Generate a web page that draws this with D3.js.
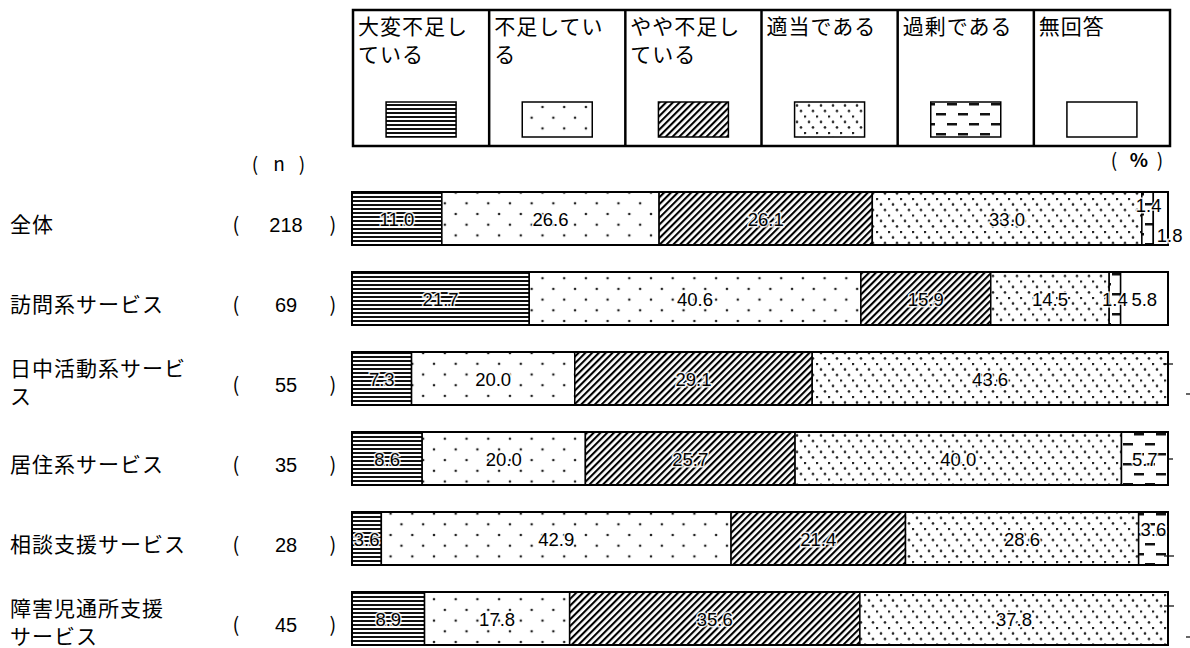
<!DOCTYPE html>
<html>
<head>
<meta charset="utf-8">
<script src="https://cdn.jsdelivr.net/npm/d3@7"></script>
<style>
  body { margin: 0; background: #fff; }
  svg { display: block; }
  .jp { font-family: "Noto Sans CJK JP", sans-serif; }
  .num { font-family: "Liberation Sans", Arial, sans-serif; }
</style>
</head>
<body>
<svg id="chart" width="1190" height="648"></svg>
<script>
// chart data
const categories = ['全体', '訪問系サービス', '日中活動系サービス', '居住系サービス', '相談支援サービス', '障害児通所支援サービス'];
const categoryLines = [['全体'], ['訪問系サービス'], ['日中活動系サービ', 'ス'], ['居住系サービス'], ['相談支援サービス'], ['障害児通所支援', 'サービス']];
const sampleSizes = [218, 69, 55, 35, 28, 45];
const seriesKeys = ['verySevere', 'short', 'slightly', 'adequate', 'excess', 'noAnswer'];
const legendLines = [['大変不足し', 'ている'], ['不足してい', 'る'], ['やや不足し', 'ている'], ['適当である'], ['過剰である'], ['無回答']];
const verySevere = [11.0, 21.7, 7.3, 8.6, 3.6, 8.9];
const short = [26.6, 40.6, 20.0, 20.0, 42.9, 17.8];
const slightly = [26.1, 15.9, 29.1, 25.7, 21.4, 35.6];
const adequate = [33.0, 14.5, 43.6, 40.0, 28.6, 37.8];
const excess = [1.4, 1.4, 0.0, 5.7, 3.6, 0.0];
const noAnswer = [1.8, 5.8, 0.0, 0.0, 0.0, 0.0];

const seriesValues = { verySevere, short, slightly, adequate, excess, noAnswer };
const rows = categories.map((c, i) => {
  const r = { category: c };
  seriesKeys.forEach(k => { r[k] = seriesValues[k][i]; });
  return r;
});

// label nudges for crowded small segments
const labelNudge = {
  '全体|excess': [1, -14],
  '全体|noAnswer': [9, 16],
  '相談支援サービス|excess': [0, -10]
};
// leader ticks left by the hidden 0.0 labels
const zeroLeaders = [
  { category: '日中活動系サービス', x0: -5, x1: 5, dy: 12 },
  { category: '日中活動系サービス', x0: 18, x1: 24, dy: 42 },
  { category: '居住系サービス', x0: 0, x1: 5, dy: 27 },
  { category: '相談支援サービス', x0: -4, x1: 6, dy: 44 },
  { category: '障害児通所支援サービス', x0: -4, x1: 6, dy: 14 },
  { category: '障害児通所支援サービス', x0: 18, x1: 24, dy: 45 }
];

const svg = d3.select('#chart');
const defs = svg.append('defs');

// fill patterns
function addPattern (id, w, h, draw, transform) {
  const p = defs.append('pattern')
    .attr('id', id)
    .attr('patternUnits', 'userSpaceOnUse')
    .attr('width', w)
    .attr('height', h);
  if (transform) p.attr('patternTransform', transform);
  p.append('rect').attr('width', w).attr('height', h).attr('fill', '#fff');
  draw(p);
}

addPattern('pat-verySevere', 8, 4, p => {
  p.append('rect').attr('y', 0).attr('width', 8).attr('height', 2).attr('fill', '#111');
});
addPattern('pat-short', 21.7, 21.4, p => {
  [[0, 0], [10.85, 10.7], [21.7, 0], [0, 21.4], [21.7, 21.4]].forEach(([x, y]) => {
    p.append('circle').attr('cx', x).attr('cy', y).attr('r', 1.3).attr('fill', '#222');
  });
});
addPattern('pat-slightly', 4.8, 10, p => {
  p.append('rect').attr('width', 2.1).attr('height', 10).attr('fill', '#000');
}, 'rotate(45)');
addPattern('pat-adequate', 12, 16.5, p => {
  [[1, 1], [5, 6.5], [9, 12]].forEach(([x, y]) => {
    p.append('circle').attr('cx', x).attr('cy', y).attr('r', 1.3).attr('fill', '#222');
  });
});
addPattern('pat-excess', 22, 20, p => {
  p.append('rect').attr('x', 1).attr('y', 3).attr('width', 10).attr('height', 2.5).attr('fill', '#111');
  p.append('rect').attr('x', 12).attr('y', 13).attr('width', 10).attr('height', 2.5).attr('fill', '#111');
});
const fillFor = k => k === 'noAnswer' ? '#fff' : `url(#pat-${k})`;

// scales
const x = d3.scaleLinear().domain([0, 1]).range([352, 1168]);
const y = d3.scaleBand()
  .domain(categories)
  .range([192, 645])
  .paddingInner(27 / 80)
  .paddingOuter(0);

const stacked = d3.stack()
  .keys(seriesKeys)
  .offset(d3.stackOffsetExpand)(rows);

// legend
const legendX = d3.scaleBand().domain(seriesKeys).range([353, 1170]);
const legend = svg.append('g');
legend.append('rect')
  .attr('x', 353).attr('y', 10)
  .attr('width', 817).attr('height', 136)
  .attr('fill', 'none').attr('stroke', '#000').attr('stroke-width', 2.5);
seriesKeys.forEach((k, i) => {
  const cx = legendX(k);
  if (i > 0) {
    legend.append('line')
      .attr('x1', cx).attr('x2', cx).attr('y1', 10).attr('y2', 146)
      .attr('stroke', '#000').attr('stroke-width', 2.5);
  }
  legendLines[i].forEach((ln, j) => {
    legend.append('text')
      .attr('class', 'jp')
      .attr('x', cx + 5)
      .attr('y', 34 + j * 28)
      .style('font-size', '21px')
      .style('letter-spacing', '1px')
      .text(ln);
  });
  legend.append('rect')
    .attr('x', cx + legendX.bandwidth() / 2 - 35)
    .attr('y', 102)
    .attr('width', 70).attr('height', 35)
    .attr('fill', fillFor(k))
    .attr('stroke', '#000').attr('stroke-width', 1.5);
});

// headers
const header = svg.append('g').attr('class', 'jp').style('font-size', '19px');
[['(', 255], ['n', 279], [')', 302]].forEach(([t, px]) => {
  header.append('text').attr('x', px).attr('y', 171).attr('text-anchor', 'middle').text(t);
});
[['(', 1114], ['%', 1139], [')', 1160]].forEach(([t, px]) => {
  header.append('text').attr('x', px).attr('y', 167).attr('text-anchor', 'middle')
    .style('font-weight', t === '%' ? 'bold' : 'normal').text(t);
});

// row labels
const rowLabels = svg.append('g');
categories.forEach((c, i) => {
  const mid = y(c) + y.bandwidth() / 2;
  const lines = categoryLines[i];
  lines.forEach((ln, j) => {
    rowLabels.append('text')
      .attr('class', 'jp')
      .style('font-size', '21px')
      .style('letter-spacing', '1px')
      .attr('x', 10)
      .attr('y', mid + (lines.length === 1 ? 13.5 : (j === 0 ? -3 : 25)))
      .text(ln);
  });
  rowLabels.append('text').attr('class', 'jp').style('font-size', '20px')
    .attr('x', 236).attr('y', mid + 13).attr('text-anchor', 'middle').text('(');
  rowLabels.append('text').attr('class', 'jp').style('font-size', '20px')
    .attr('x', 333).attr('y', mid + 13).attr('text-anchor', 'middle').text(')');
  rowLabels.append('text').attr('class', 'num').style('font-size', '20px')
    .attr('x', 286).attr('y', mid + 13).attr('text-anchor', 'middle').text(sampleSizes[i]);
});

// bars
const fmt = d3.format('.1f');
const bars = svg.append('g');
stacked.forEach(layer => {
  const key = layer.key;
  const g = bars.append('g');
  g.selectAll('rect')
    .data(layer.filter(d => d.data[key] > 0))
    .join('rect')
    .attr('x', d => x(d[0]))
    .attr('y', d => y(d.data.category))
    .attr('width', d => x(d[1]) - x(d[0]))
    .attr('height', y.bandwidth())
    .attr('fill', fillFor(key))
    .attr('stroke', '#000')
    .attr('stroke-width', 1.5);
});
categories.forEach(c => {
  bars.append('rect')
    .attr('x', x(0)).attr('y', y(c))
    .attr('width', x(1) - x(0)).attr('height', y.bandwidth())
    .attr('fill', 'none').attr('stroke', '#000').attr('stroke-width', 2);
});

// value labels
const labels = svg.append('g').attr('class', 'num').style('font-size', '18.5px');
stacked.forEach(layer => {
  const key = layer.key;
  layer.filter(d => d.data[key] > 0).forEach(d => {
    const nudge = labelNudge[`${d.data.category}|${key}`] || [0, 0];
    labels.append('text')
      .attr('x', (x(d[0]) + x(d[1])) / 2 + nudge[0])
      .attr('y', y(d.data.category) + y.bandwidth() / 2 + 7 + nudge[1])
      .attr('text-anchor', 'middle')
      .style('paint-order', 'stroke')
      .style('stroke', 'rgba(255,255,255,0.85)')
      .style('stroke-width', '3px')
      .style('fill', '#000')
      .text(fmt(d.data[key]));
  });
});

// leader ticks
svg.append('g')
  .selectAll('line')
  .data(zeroLeaders)
  .join('line')
  .attr('x1', d => x(1) + d.x0)
  .attr('x2', d => x(1) + d.x1)
  .attr('y1', d => y(d.category) + d.dy)
  .attr('y2', d => y(d.category) + d.dy)
  .attr('stroke', '#000')
  .attr('stroke-width', 1.2);
</script>
</body>
</html>
